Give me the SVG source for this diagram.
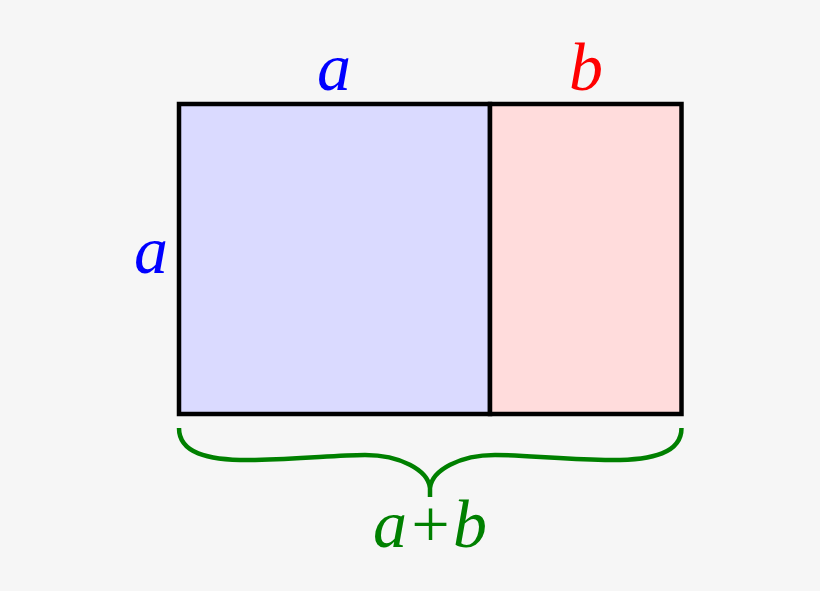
<svg xmlns="http://www.w3.org/2000/svg" width="820" height="591" viewBox="0 0 820 591">
<style>
.lbl{font-family:"Liberation Serif","Times New Roman",serif;font-style:italic;font-size:68px;text-anchor:middle}
.edge{stroke:#000;stroke-width:4.5;stroke-linejoin:miter}
.brace{fill:none;stroke:#008000;stroke-width:4.5;stroke-linecap:butt}
</style>
<rect width="820" height="591" fill="#f6f6f6"/>
<g id="square-a">
<rect class="edge" x="179" y="104" width="311" height="310" fill="#dadaff"/>
</g>
<g id="rect-b">
<rect class="edge" x="490" y="104" width="191.5" height="310" fill="#ffdcdc"/>
</g>
<g id="connectors">
<path class="brace" d="M179,428 C179,452 205,461 255,460 C305,459 335,455 365,455 C400,455 428,470 430,488 L430,497 M681.5,428 C681.5,452 655,461 605,460 C555,459 525,455 495,455 C460,455 432,470 430,488"/>
</g>
<g id="labels">
<text class="lbl" x="334" y="90" fill="#0000ff">a</text>
<text class="lbl" x="586" y="90" fill="#ff0000">b</text>
<text class="lbl" x="151" y="273" fill="#0000ff">a</text>
<text class="lbl" x="430" y="547" fill="#008000">a+b</text>
</g>
</svg>
